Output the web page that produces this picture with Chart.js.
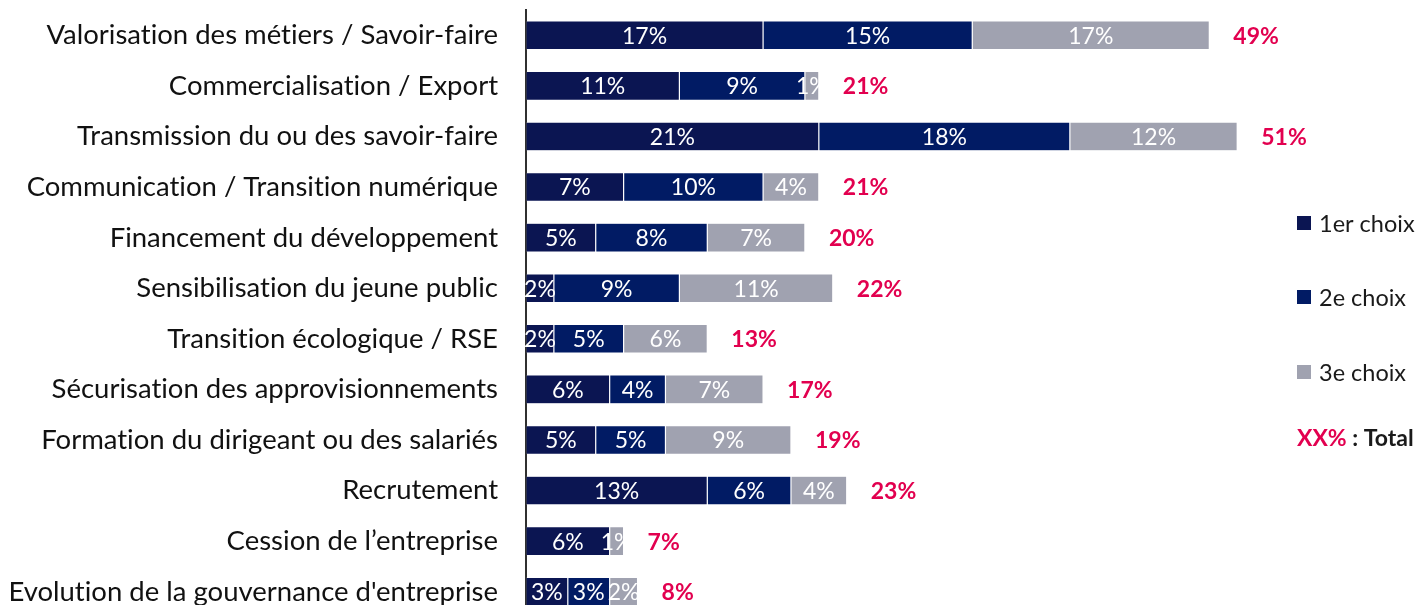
<!DOCTYPE html>
<html lang="fr">
<head>
<meta charset="utf-8">
<title>Priorités</title>
<script src="https://cdn.jsdelivr.net/npm/chart.js@4.4.1/dist/chart.umd.min.js"></script>
<style>
  html, body { margin: 0; padding: 0; background: #fff; overflow: hidden; }
  #chart { display: block; width: 1422px; height: 640px; }
</style>
</head>
<body>
<canvas id="chart" width="1422" height="640"></canvas>
<script>
const categories = [
  'Valorisation des métiers / Savoir-faire',
  'Commercialisation / Export',
  'Transmission du ou des savoir-faire',
  'Communication / Transition numérique',
  'Financement du développement',
  'Sensibilisation du jeune public',
  'Transition écologique / RSE',
  'Sécurisation des approvisionnements',
  'Formation du dirigeant ou des salariés',
  'Recrutement',
  'Cession de l\u2019entreprise',
  'Evolution de la gouvernance d\'entreprise'
];
const seriesNames = ['1er choix', '2e choix', '3e choix'];
const choix1 = [17, 11, 21, 7, 5, 2, 2, 6, 5, 13, 6, 3];
const choix2 = [15, 9, 18, 10, 8, 9, 5, 4, 5, 6, 0, 3];
const choix3 = [17, 1, 12, 4, 7, 11, 6, 7, 9, 4, 1, 2];
const totals = [49, 21, 51, 21, 20, 22, 13, 17, 19, 23, 7, 8];

const COLORS = ['#0b1552', '#011b64', '#a0a2b0'];
const PINK = '#e2004f';
const FONT = 'Lato, "Open Sans", sans-serif';

// no "ti"/"fi" ligatures in the labels
const plainText = {
  id: 'plainText',
  beforeDraw(chart) {
    chart.ctx.textRendering = 'optimizeSpeed';
  }
};

// white % labels centred in each segment
const segmentLabels = {
  id: 'segmentLabels',
  afterDatasetsDraw(chart) {
    const ctx = chart.ctx;
    ctx.save();
    ctx.font = '23px ' + FONT;
    ctx.fillStyle = '#ffffff';
    ctx.textAlign = 'center';
    ctx.textBaseline = 'middle';
    chart.data.datasets.forEach((ds, di) => {
      chart.getDatasetMeta(di).data.forEach((bar, i) => {
        const v = ds.data[i];
        if (!v) return;
        const x = (bar.x + bar.base) / 2;
        ctx.fillText(v + '%', x, bar.y + 1);
      });
    });
    ctx.restore();
  }
};

// bold totals after each bar
const totalLabels = {
  id: 'totalLabels',
  afterDatasetsDraw(chart) {
    const ctx = chart.ctx;
    const xs = chart.scales.x;
    const ys = chart.scales.y;
    ctx.save();
    ctx.font = 'bold 23px ' + FONT;
    ctx.fillStyle = PINK;
    ctx.textAlign = 'left';
    ctx.textBaseline = 'middle';
    totals.forEach((t, i) => {
      ctx.fillText(t + '%', xs.getPixelForValue(t) + 24, ys.getPixelForValue(i) + 1);
    });
    ctx.restore();
  }
};

// legend on the right, with the "XX% : Total" note underneath
const sideLegend = {
  id: 'sideLegend',
  afterDraw(chart) {
    const ctx = chart.ctx;
    const x0 = 1297;
    const rows = [223, 297, 372];
    ctx.save();
    ctx.textBaseline = 'middle';
    ctx.textAlign = 'left';
    ctx.font = '23.5px ' + FONT;
    chart.data.datasets.forEach((ds, i) => {
      ctx.fillStyle = ds.backgroundColor;
      ctx.fillRect(x0, rows[i] - 7, 14, 14);
      ctx.fillStyle = '#1a1a1a';
      ctx.fillText(ds.label, x0 + 22, rows[i] + 1);
    });
    ctx.font = 'bold 23px ' + FONT;
    ctx.fillStyle = PINK;
    ctx.fillText('XX%', x0, 439);
    const w = ctx.measureText('XX%').width;
    ctx.fillStyle = '#1a1a1a';
    ctx.fillText(' : Total', x0 + w, 439);
    ctx.restore();
  }
};

const series = [choix1, choix2, choix3];

new Chart(document.getElementById('chart'), {
  type: 'bar',
  data: {
    labels: categories,
    datasets: series.map((data, i) => ({
      label: seriesNames[i],
      data: data,
      backgroundColor: COLORS[i],
      borderColor: 'rgba(255,255,255,0.18)',
      borderWidth: 0.6,
      borderSkipped: false,
      barPercentage: 0.57,
      categoryPercentage: 1,
      stack: 'choix'
    }))
  },
  options: {
    indexAxis: 'y',
    responsive: false,
    animation: false,
    layout: { padding: { top: 10, bottom: 23, left: 0, right: 129 } },
    plugins: {
      legend: { display: false },
      tooltip: { enabled: false }
    },
    scales: {
      x: {
        stacked: true,
        display: false,
        min: 0,
        max: 55
      },
      y: {
        stacked: true,
        afterFit(scale) {
          scale.width = 526;
          scale.paddingTop = 0;
          scale.paddingBottom = 0;
        },
        grid: { display: false, drawTicks: false },
        border: { display: true, color: '#303030', width: 2 },
        ticks: {
          padding: 28,
          color: '#111111',
          font: { family: FONT, size: 27.5 }
        }
      }
    }
  },
  plugins: [plainText, segmentLabels, totalLabels, sideLegend]
});
</script>
</body>
</html>
